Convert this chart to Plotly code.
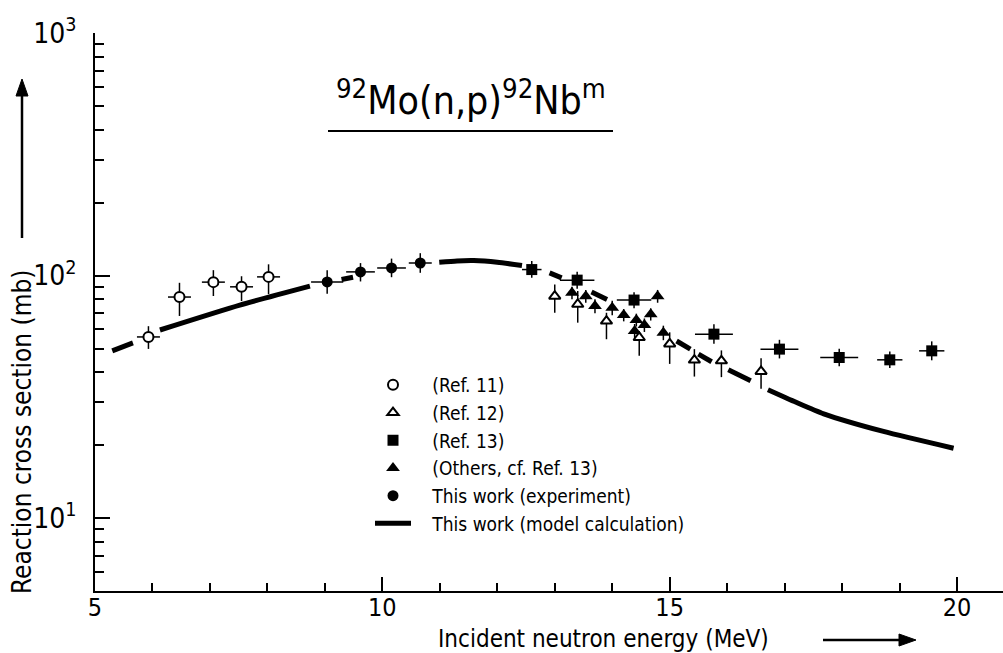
import plotly.graph_objects as go

# ---------------- data ----------------
ref11_E = [5.93, 6.47, 7.06, 7.55, 8.02]
ref11_sig = [55.8, 81.5, 93.9, 89.8, 98.7]
ref11_dE = [0.2, 0.2, 0.2, 0.2, 0.2]
ref11_up = [6.0, 11.8, 11.3, 9.5, 12.5]
ref11_dn = [6.0, 13.4, 11.6, 11.3, 14.9]

ref12_E = [13.00, 13.40, 13.90, 14.47, 15.00, 15.43, 15.90, 16.59]
ref12_sig = [82.2, 76.1, 64.9, 55.5, 52.2, 44.8, 44.5, 40.2]
ref12_up = [9.6, 10.2, 5.3, 3.6, 6.1, 4.9, 4.6, 5.4]
ref12_dn = [12.0, 12.2, 10.3, 8.8, 9.0, 6.5, 6.4, 6.1]

ref13_E = [12.60, 13.39, 14.38, 15.77, 16.91, 17.95, 18.83, 19.56]
ref13_sig = [105.8, 95.7, 79.2, 57.3, 49.7, 45.9, 44.9, 48.9]
ref13_dE = [0.17, 0.30, 0.30, 0.33, 0.33, 0.33, 0.22, 0.22]
ref13_up = [9.0, 8.0, 6.0, 5.6, 4.6, 4.0, 3.7, 4.6]
ref13_dn = [8.0, 7.5, 6.0, 5.0, 4.2, 3.7, 3.4, 4.2]

others_E = [13.30, 13.54, 13.70, 14.00, 14.20, 14.39, 14.42, 14.56, 14.67, 14.79, 14.89]
others_sig = [84.8, 82.2, 74.8, 73.6, 68.7, 59.1, 65.6, 62.5, 69.2, 82.2, 58.1]
others_err = [5.0, 5.0, 5.0, 5.0, 4.0, 4.0, 4.0, 4.0, 4.0, 5.0, 4.0]

exp_E = [9.04, 9.62, 10.16, 10.66]
exp_sig = [94.1, 103.5, 107.4, 112.6]
exp_dE = [0.28, 0.25, 0.25, 0.20]
exp_up = [11.0, 9.0, 10.0, 11.0]
exp_dn = [10.0, 9.0, 9.0, 10.0]

# model calculation (drawn as broken curve; None = gap around data points)
model_E = [5.30, 5.66, None, 6.13, 7.52, 8.74, None, 9.29, 9.49, None,
           10.99, 11.30, 11.59, 12.00, 12.43, None, 12.91, 13.12, None,
           13.64, 13.91, None, 15.12, 15.36, None, 15.50, 15.73, None,
           16.02, 16.41, None, 16.71, 17.20, 17.68, 18.72, 19.94]
model_sig = [48.9, 52.7, None, 59.6, 75.5, 90.4, None, 96.3, 98.4, None,
             113.4, 114.8, 115.2, 113.4, 109.9, None, 102.5, 97.8, None,
             85.6, 79.7, None, 53.7, 49.7, None, 47.4, 44.1, None,
             40.9, 36.8, None, 33.8, 30.0, 26.9, 22.75, 19.4]

x_major = [5, 10, 15, 20]
x_minor = [6, 7, 8, 9, 11, 12, 13, 14, 16, 17, 18, 19]
y_major = [10, 100, 1000]
y_major_text = ["10<sup>1</sup>", "10<sup>2</sup>", "10<sup>3</sup>"]
y_minor = [5, 6, 7, 8, 9, 20, 30, 40, 50, 60, 70, 80, 90,
           200, 300, 400, 500, 600, 700, 800, 900]

FONT = "DejaVu Sans Condensed, Liberation Sans Narrow, Roboto, sans-serif"
BLACK = "black"
PAD = "\u00a0" * 3

# plot area geometry (pixels) used to place decorations in paper coordinates
L, R, T, B = 95, 1003, 33, 591


def px(xp):
    return (xp - L) / (R - L)


def py(yp):
    return (B - yp) / (B - T)


fig = go.Figure()

fig.add_trace(go.Scatter(
    x=model_E, y=model_sig, mode="lines", name=PAD + "This work (model calculation)",
    line=dict(color=BLACK, width=5, shape="spline", smoothing=0.6), connectgaps=False,
    legendrank=1006))

eb = dict(color=BLACK, thickness=1.5, width=0)

fig.add_trace(go.Scatter(
    x=ref11_E, y=ref11_sig, mode="markers", name=PAD + "(Ref. 11)",
    marker=dict(symbol="circle", size=10, color="white", line=dict(color=BLACK, width=2)),
    error_x=dict(type="data", array=ref11_dE, **eb),
    error_y=dict(type="data", symmetric=False, array=ref11_up, arrayminus=ref11_dn, **eb),
    legendrank=1001))

fig.add_trace(go.Scatter(
    x=ref12_E, y=ref12_sig, mode="markers", name=PAD + "(Ref. 12)",
    marker=dict(symbol="triangle-up", size=10, color="white", line=dict(color=BLACK, width=2)),
    error_y=dict(type="data", symmetric=False, array=ref12_up, arrayminus=ref12_dn, **eb),
    legendrank=1002))

fig.add_trace(go.Scatter(
    x=ref13_E, y=ref13_sig, mode="markers", name=PAD + "(Ref. 13)",
    marker=dict(symbol="square", size=11, color=BLACK),
    error_x=dict(type="data", array=ref13_dE, **eb),
    error_y=dict(type="data", symmetric=False, array=ref13_up, arrayminus=ref13_dn, **eb),
    legendrank=1003))

fig.add_trace(go.Scatter(
    x=others_E, y=others_sig, mode="markers", name=PAD + "(Others, cf. Ref. 13)",
    marker=dict(symbol="triangle-up", size=12, color=BLACK),
    error_y=dict(type="data", array=others_err, **eb),
    legendrank=1004))

fig.add_trace(go.Scatter(
    x=exp_E, y=exp_sig, mode="markers", name=PAD + "This work (experiment)",
    marker=dict(symbol="circle", size=11, color=BLACK),
    error_x=dict(type="data", array=exp_dE, **eb),
    error_y=dict(type="data", symmetric=False, array=exp_up, arrayminus=exp_dn, **eb),
    legendrank=1005))

fig.update_layout(
    width=1003, height=653,
    margin=dict(l=L, r=1003 - R, t=T, b=653 - B),
    plot_bgcolor="white", paper_bgcolor="white",
    font=dict(family=FONT, color=BLACK, size=20),
    showlegend=True,
    legend=dict(x=px(370), y=py(366), xanchor="left", yanchor="top",
                bgcolor="rgba(0,0,0,0)", font=dict(size=19, family=FONT),
                itemwidth=36, tracegroupgap=0, itemclick=False),
    xaxis=dict(range=[5, 20.8], showline=True, linecolor=BLACK, linewidth=2,
               ticks="inside", ticklen=14, tickwidth=2, tickcolor=BLACK,
               tickmode="array", tickvals=x_major, ticktext=[str(v) for v in x_major],
               tickfont=dict(size=25, family=FONT), ticklabelstandoff=-7,
               minor=dict(ticks="inside", ticklen=8, tickwidth=1.5, tickcolor=BLACK,
                          tickmode="array", tickvals=x_minor, showgrid=False),
               showgrid=False, zeroline=False, mirror=False),
    yaxis=dict(type="log", range=[0.69897, 3], showline=True, linecolor=BLACK, linewidth=2,
               ticks="inside", ticklen=15, tickwidth=2, tickcolor=BLACK,
               tickmode="array", tickvals=y_major, ticktext=y_major_text,
               tickfont=dict(size=28, family=FONT), ticklabelstandoff=11,
               minor=dict(ticks="inside", ticklen=9, tickwidth=1.5, tickcolor=BLACK,
                          tickmode="array", tickvals=y_minor, showgrid=False),
               showgrid=False, zeroline=False, mirror=False),
)

# title with underline
fig.add_annotation(text="<sup>92</sup>Mo(n,p)<sup>92</sup>Nb<sup>m</sup>",
                   xref="paper", yref="paper", x=px(471), y=py(98),
                   xanchor="center", yanchor="middle",
                   showarrow=False, font=dict(size=39, family=FONT))
fig.add_shape(type="line", xref="paper", yref="paper",
              x0=px(328), x1=px(613), y0=py(131), y1=py(131),
              line=dict(color=BLACK, width=2))

# axis titles
fig.add_annotation(text="Incident neutron energy (MeV)", xref="paper", yref="paper",
                   x=px(603), y=py(639), xanchor="center", yanchor="middle",
                   showarrow=False, font=dict(size=24, family=FONT))
fig.add_annotation(text="Reaction cross section (mb)", xref="paper", yref="paper",
                   x=px(22), y=py(432), xanchor="center", yanchor="middle", textangle=-90,
                   showarrow=False, font=dict(size=26, family=FONT))

# arrows next to axis titles
fig.add_shape(type="line", xref="paper", yref="paper",
              x0=px(823), x1=px(903), y0=py(640), y1=py(640),
              line=dict(color=BLACK, width=2.5))
fig.add_shape(type="path", xref="paper", yref="paper",
              path=f"M {px(899)},{py(634)} L {px(916)},{py(640)} L {px(899)},{py(646)} Z",
              fillcolor=BLACK, line=dict(color=BLACK, width=1))
fig.add_shape(type="line", xref="paper", yref="paper",
              x0=px(22), x1=px(22), y0=py(238), y1=py(92),
              line=dict(color=BLACK, width=2.5))
fig.add_shape(type="path", xref="paper", yref="paper",
              path=f"M {px(16)},{py(96)} L {px(22)},{py(79)} L {px(28)},{py(96)} Z",
              fillcolor=BLACK, line=dict(color=BLACK, width=1))

fig.write_html("out.html")
